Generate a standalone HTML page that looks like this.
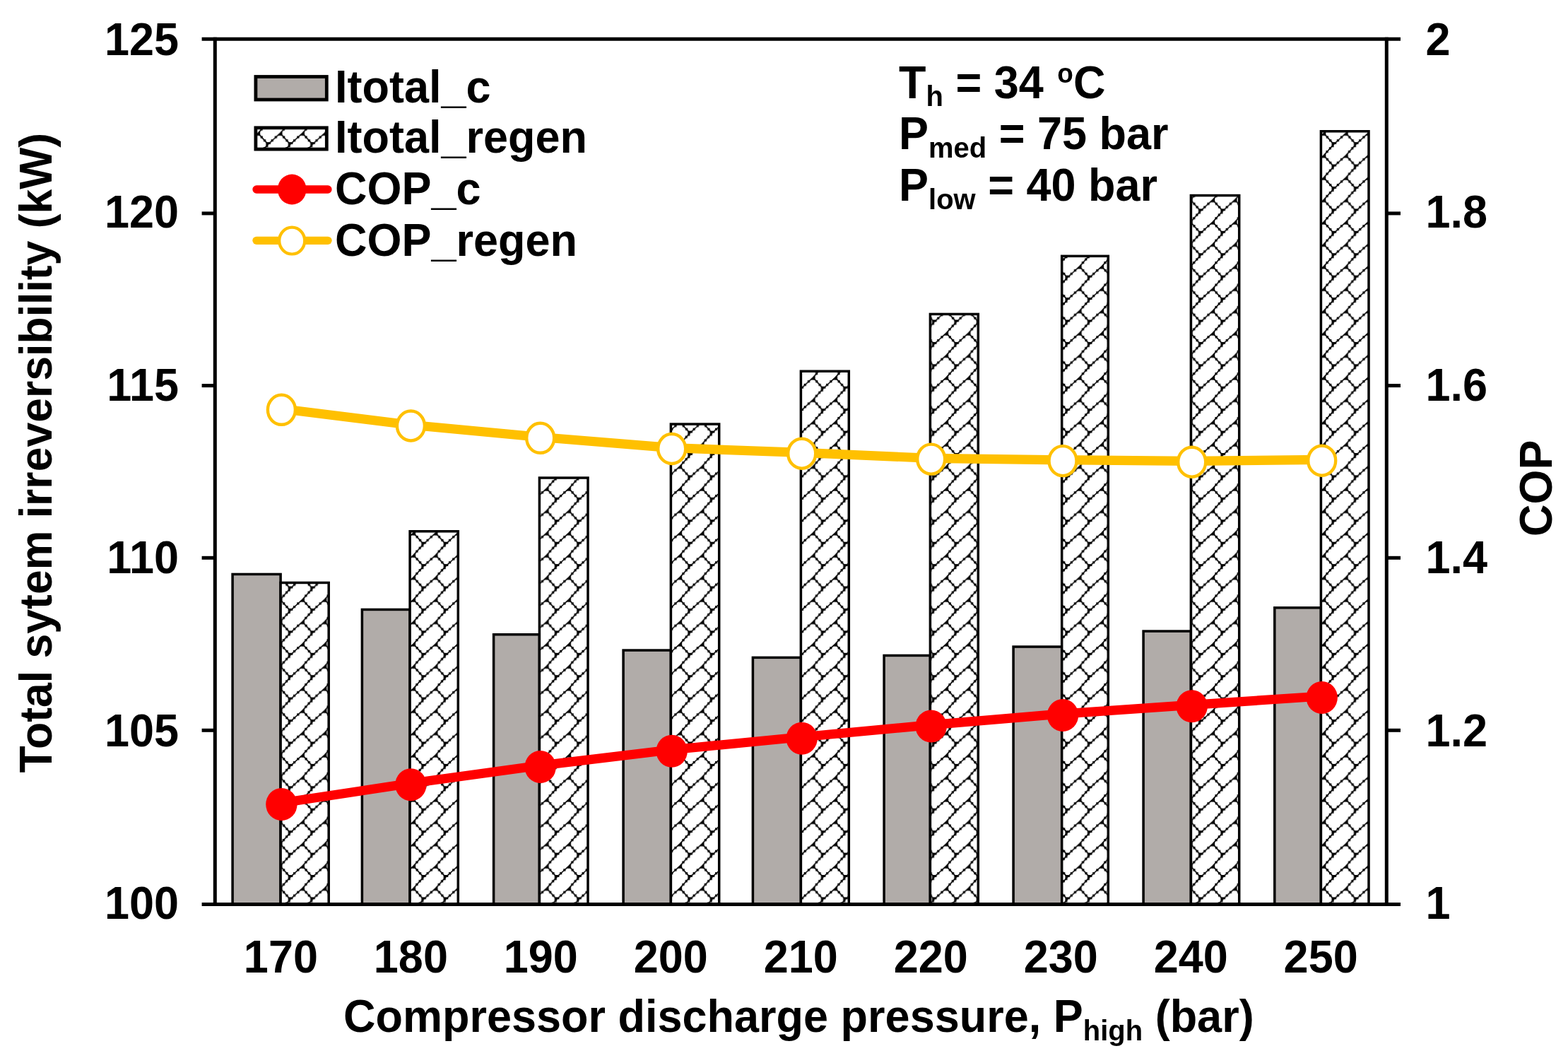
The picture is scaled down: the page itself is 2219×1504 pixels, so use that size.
<!DOCTYPE html><html><head><meta charset="utf-8"><title>Chart</title><style>html,body{margin:0;padding:0;background:#fff;}svg{display:block;}text{font-family:"Liberation Sans",Arial,sans-serif;font-weight:bold;fill:#000;}</style></head><body>
<svg xmlns="http://www.w3.org/2000/svg" xmlns:xlink="http://www.w3.org/1999/xlink" width="2219" height="1504" viewBox="0 0 2219 1504">
<rect x="0" y="0" width="2219" height="1504" fill="#fff"/>
<defs>
<pattern id="pb" patternUnits="userSpaceOnUse" x="0" y="0" width="31.42" height="31.42"><rect width="31.42" height="31.42" fill="#fff"/><g fill="#000"><path d="M-23.42,-26.42L-9.22,-10.72M-23.42,-26.42L-40.64,-10.72M-9.22,-10.72L-23.42,5.00M-23.42,5.00L-9.22,20.70M-23.42,5.00L-40.64,20.70M-9.22,20.70L-23.42,36.42M-23.42,36.42L-9.22,52.12M-23.42,36.42L-40.64,52.12M-9.22,52.12L-23.42,67.84M8.00,-26.42L22.20,-10.72M8.00,-26.42L-9.22,-10.72M22.20,-10.72L8.00,5.00M8.00,5.00L22.20,20.70M8.00,5.00L-9.22,20.70M22.20,20.70L8.00,36.42M8.00,36.42L22.20,52.12M8.00,36.42L-9.22,52.12M22.20,52.12L8.00,67.84M39.42,-26.42L53.62,-10.72M39.42,-26.42L22.20,-10.72M53.62,-10.72L39.42,5.00M39.42,5.00L53.62,20.70M39.42,5.00L22.20,20.70M53.62,20.70L39.42,36.42M39.42,36.42L53.62,52.12M39.42,36.42L22.20,52.12M53.62,52.12L39.42,67.84" stroke="#000" stroke-width="1.6" fill="none"/><rect x="-19.91" y="-22.37" width="3.2" height="3.2"/><rect x="-15.65" y="-17.66" width="3.2" height="3.2"/><rect x="-31.22" y="-22.37" width="3.2" height="3.2"/><rect x="-36.39" y="-17.66" width="3.2" height="3.2"/><rect x="-15.93" y="-6.66" width="3.2" height="3.2"/><rect x="-20.19" y="-1.94" width="3.2" height="3.2"/><rect x="-19.91" y="9.05" width="3.2" height="3.2"/><rect x="-15.65" y="13.76" width="3.2" height="3.2"/><rect x="-31.22" y="9.05" width="3.2" height="3.2"/><rect x="-36.39" y="13.76" width="3.2" height="3.2"/><rect x="-15.93" y="24.76" width="3.2" height="3.2"/><rect x="-20.19" y="29.48" width="3.2" height="3.2"/><rect x="-19.91" y="40.47" width="3.2" height="3.2"/><rect x="-15.65" y="45.18" width="3.2" height="3.2"/><rect x="-31.22" y="40.47" width="3.2" height="3.2"/><rect x="-36.39" y="45.18" width="3.2" height="3.2"/><rect x="-15.93" y="56.18" width="3.2" height="3.2"/><rect x="-20.19" y="60.90" width="3.2" height="3.2"/><rect x="11.51" y="-22.37" width="3.2" height="3.2"/><rect x="15.77" y="-17.66" width="3.2" height="3.2"/><rect x="0.20" y="-22.37" width="3.2" height="3.2"/><rect x="-4.97" y="-17.66" width="3.2" height="3.2"/><rect x="15.49" y="-6.66" width="3.2" height="3.2"/><rect x="11.23" y="-1.94" width="3.2" height="3.2"/><rect x="11.51" y="9.05" width="3.2" height="3.2"/><rect x="15.77" y="13.76" width="3.2" height="3.2"/><rect x="0.20" y="9.05" width="3.2" height="3.2"/><rect x="-4.97" y="13.76" width="3.2" height="3.2"/><rect x="15.49" y="24.76" width="3.2" height="3.2"/><rect x="11.23" y="29.48" width="3.2" height="3.2"/><rect x="11.51" y="40.47" width="3.2" height="3.2"/><rect x="15.77" y="45.18" width="3.2" height="3.2"/><rect x="0.20" y="40.47" width="3.2" height="3.2"/><rect x="-4.97" y="45.18" width="3.2" height="3.2"/><rect x="15.49" y="56.18" width="3.2" height="3.2"/><rect x="11.23" y="60.90" width="3.2" height="3.2"/><rect x="42.93" y="-22.37" width="3.2" height="3.2"/><rect x="47.19" y="-17.66" width="3.2" height="3.2"/><rect x="31.62" y="-22.37" width="3.2" height="3.2"/><rect x="26.45" y="-17.66" width="3.2" height="3.2"/><rect x="46.91" y="-6.66" width="3.2" height="3.2"/><rect x="42.65" y="-1.94" width="3.2" height="3.2"/><rect x="42.93" y="9.05" width="3.2" height="3.2"/><rect x="47.19" y="13.76" width="3.2" height="3.2"/><rect x="31.62" y="9.05" width="3.2" height="3.2"/><rect x="26.45" y="13.76" width="3.2" height="3.2"/><rect x="46.91" y="24.76" width="3.2" height="3.2"/><rect x="42.65" y="29.48" width="3.2" height="3.2"/><rect x="42.93" y="40.47" width="3.2" height="3.2"/><rect x="47.19" y="45.18" width="3.2" height="3.2"/><rect x="31.62" y="40.47" width="3.2" height="3.2"/><rect x="26.45" y="45.18" width="3.2" height="3.2"/><rect x="46.91" y="56.18" width="3.2" height="3.2"/><rect x="42.65" y="60.90" width="3.2" height="3.2"/><path d="M-27.62,-23.02L-20.42,-30.02L-20.42,-22.82Z"/><path d="M-12.22,-13.72H-5.62V-10.72H-9.22V-6.52H-12.22Z"/><path d="M-27.62,8.40L-20.42,1.40L-20.42,8.60Z"/><path d="M-12.22,17.70H-5.62V20.70H-9.22V24.90H-12.22Z"/><path d="M-27.62,39.82L-20.42,32.82L-20.42,40.02Z"/><path d="M-12.22,49.12H-5.62V52.12H-9.22V56.32H-12.22Z"/><path d="M3.80,-23.02L11.00,-30.02L11.00,-22.82Z"/><path d="M19.20,-13.72H25.80V-10.72H22.20V-6.52H19.20Z"/><path d="M3.80,8.40L11.00,1.40L11.00,8.60Z"/><path d="M19.20,17.70H25.80V20.70H22.20V24.90H19.20Z"/><path d="M3.80,39.82L11.00,32.82L11.00,40.02Z"/><path d="M19.20,49.12H25.80V52.12H22.20V56.32H19.20Z"/><path d="M35.22,-23.02L42.42,-30.02L42.42,-22.82Z"/><path d="M50.62,-13.72H57.22V-10.72H53.62V-6.52H50.62Z"/><path d="M35.22,8.40L42.42,1.40L42.42,8.60Z"/><path d="M50.62,17.70H57.22V20.70H53.62V24.90H50.62Z"/><path d="M35.22,39.82L42.42,32.82L42.42,40.02Z"/><path d="M50.62,49.12H57.22V52.12H53.62V56.32H50.62Z"/></g></pattern>
<pattern id="p0" xlink:href="#pb" x="420.00" y="717.60"/>
<pattern id="p1" xlink:href="#pb" x="420.00" y="717.60"/>
<pattern id="p2" xlink:href="#pb" x="420.00" y="717.60"/>
<pattern id="p3" xlink:href="#pb" x="420.00" y="717.60"/>
<pattern id="p4" xlink:href="#pb" x="420.00" y="717.60"/>
<pattern id="p5" xlink:href="#pb" x="420.00" y="717.60"/>
<pattern id="p6" xlink:href="#pb" x="420.00" y="717.60"/>
<pattern id="p7" xlink:href="#pb" x="420.00" y="717.60"/>
<pattern id="p8" xlink:href="#pb" x="420.00" y="717.60"/>
<pattern id="pl" xlink:href="#pb" x="420.00" y="717.60"/>
</defs>
<rect x="329.10" y="812.45" width="68.00" height="467.05" fill="#B1ACA9" stroke="#000" stroke-width="3.5"/>
<rect x="397.10" y="824.45" width="68.10" height="455.05" fill="url(#p0)" stroke="#000" stroke-width="3.5"/>
<rect x="512.40" y="862.45" width="67.70" height="417.05" fill="#B1ACA9" stroke="#000" stroke-width="3.5"/>
<rect x="580.10" y="751.75" width="68.20" height="527.75" fill="url(#p1)" stroke="#000" stroke-width="3.5"/>
<rect x="698.60" y="897.75" width="64.80" height="381.75" fill="#B1ACA9" stroke="#000" stroke-width="3.5"/>
<rect x="763.40" y="676.05" width="68.60" height="603.45" fill="url(#p2)" stroke="#000" stroke-width="3.5"/>
<rect x="882.10" y="920.05" width="67.30" height="359.45" fill="#B1ACA9" stroke="#000" stroke-width="3.5"/>
<rect x="949.40" y="600.05" width="68.30" height="679.45" fill="url(#p3)" stroke="#000" stroke-width="3.5"/>
<rect x="1065.40" y="930.35" width="68.00" height="349.15" fill="#B1ACA9" stroke="#000" stroke-width="3.5"/>
<rect x="1133.40" y="525.25" width="67.90" height="754.25" fill="url(#p4)" stroke="#000" stroke-width="3.5"/>
<rect x="1251.10" y="927.45" width="65.30" height="352.05" fill="#B1ACA9" stroke="#000" stroke-width="3.5"/>
<rect x="1316.40" y="444.45" width="67.90" height="835.05" fill="url(#p5)" stroke="#000" stroke-width="3.5"/>
<rect x="1434.10" y="915.05" width="68.60" height="364.45" fill="#B1ACA9" stroke="#000" stroke-width="3.5"/>
<rect x="1502.70" y="362.35" width="65.60" height="917.15" fill="url(#p6)" stroke="#000" stroke-width="3.5"/>
<rect x="1618.10" y="893.05" width="67.30" height="386.45" fill="#B1ACA9" stroke="#000" stroke-width="3.5"/>
<rect x="1685.40" y="276.55" width="68.30" height="1002.95" fill="url(#p7)" stroke="#000" stroke-width="3.5"/>
<rect x="1803.80" y="859.85" width="65.60" height="419.65" fill="#B1ACA9" stroke="#000" stroke-width="3.5"/>
<rect x="1869.40" y="185.75" width="67.60" height="1093.75" fill="url(#p8)" stroke="#000" stroke-width="3.5"/>
<g stroke="#000" stroke-width="5" fill="none">
<line x1="285.6" y1="55.3" x2="1982" y2="55.3"/>
<line x1="285.6" y1="1279.5" x2="1982" y2="1279.5"/>
<line x1="304.3" y1="52.8" x2="304.3" y2="1282.0"/>
<line x1="1962.3" y1="52.8" x2="1962.3" y2="1282.0"/>
<line x1="285.6" y1="1033.30" x2="304.3" y2="1033.30"/>
<line x1="1962.3" y1="1033.30" x2="1982" y2="1033.30"/>
<line x1="285.6" y1="789.30" x2="304.3" y2="789.30"/>
<line x1="1962.3" y1="789.30" x2="1982" y2="789.30"/>
<line x1="285.6" y1="545.60" x2="304.3" y2="545.60"/>
<line x1="1962.3" y1="545.60" x2="1982" y2="545.60"/>
<line x1="285.6" y1="301.90" x2="304.3" y2="301.90"/>
<line x1="1962.3" y1="301.90" x2="1982" y2="301.90"/>
</g>
<polyline points="398.40,578.50 581.40,601.20 764.70,618.50 950.70,633.70 1134.70,640.40 1317.70,648.30 1504.00,650.80 1686.70,652.40 1870.70,650.40" fill="none" stroke="#FFC000" stroke-width="13.2" stroke-linejoin="round" stroke-linecap="round"/>
<ellipse cx="398.40" cy="579.80" rx="19.5" ry="21" fill="#fff" stroke="#FFC000" stroke-width="4.4"/>
<ellipse cx="581.40" cy="602.50" rx="19.5" ry="21" fill="#fff" stroke="#FFC000" stroke-width="4.4"/>
<ellipse cx="764.70" cy="619.80" rx="19.5" ry="21" fill="#fff" stroke="#FFC000" stroke-width="4.4"/>
<ellipse cx="950.70" cy="635.00" rx="19.5" ry="21" fill="#fff" stroke="#FFC000" stroke-width="4.4"/>
<ellipse cx="1134.70" cy="641.70" rx="19.5" ry="21" fill="#fff" stroke="#FFC000" stroke-width="4.4"/>
<ellipse cx="1317.70" cy="649.60" rx="19.5" ry="21" fill="#fff" stroke="#FFC000" stroke-width="4.4"/>
<ellipse cx="1504.00" cy="652.10" rx="19.5" ry="21" fill="#fff" stroke="#FFC000" stroke-width="4.4"/>
<ellipse cx="1686.70" cy="653.70" rx="19.5" ry="21" fill="#fff" stroke="#FFC000" stroke-width="4.4"/>
<ellipse cx="1870.70" cy="651.70" rx="19.5" ry="21" fill="#fff" stroke="#FFC000" stroke-width="4.4"/>
<polyline points="398.40,1136.10 581.40,1108.20 764.70,1083.10 950.70,1060.80 1134.70,1042.80 1317.70,1025.60 1504.00,1009.90 1686.70,997.30 1870.70,985.00" fill="none" stroke="#FF0000" stroke-width="13.2" stroke-linejoin="round" stroke-linecap="round"/>
<ellipse cx="398.40" cy="1138.10" rx="22.2" ry="23" fill="#FF0000"/>
<ellipse cx="581.40" cy="1110.20" rx="22.2" ry="23" fill="#FF0000"/>
<ellipse cx="764.70" cy="1085.10" rx="22.2" ry="23" fill="#FF0000"/>
<ellipse cx="950.70" cy="1062.80" rx="22.2" ry="23" fill="#FF0000"/>
<ellipse cx="1134.70" cy="1044.80" rx="22.2" ry="23" fill="#FF0000"/>
<ellipse cx="1317.70" cy="1027.60" rx="22.2" ry="23" fill="#FF0000"/>
<ellipse cx="1504.00" cy="1011.90" rx="22.2" ry="23" fill="#FF0000"/>
<ellipse cx="1686.70" cy="999.30" rx="22.2" ry="23" fill="#FF0000"/>
<ellipse cx="1870.70" cy="987.00" rx="22.2" ry="23" fill="#FF0000"/>
<text transform="translate(253.00,1300.40) scale(1.0,1.025)" font-size="63" text-anchor="end">100</text>
<text transform="translate(253.00,1055.84) scale(1.0,1.025)" font-size="63" text-anchor="end">105</text>
<text transform="translate(253.00,811.28) scale(1.0,1.025)" font-size="63" text-anchor="end">110</text>
<text transform="translate(253.00,566.72) scale(1.0,1.025)" font-size="63" text-anchor="end">115</text>
<text transform="translate(253.00,322.16) scale(1.0,1.025)" font-size="63" text-anchor="end">120</text>
<text transform="translate(253.00,77.60) scale(1.0,1.025)" font-size="63" text-anchor="end">125</text>
<text transform="translate(2017.50,1300.40) scale(1.0,1.025)" font-size="63">1</text>
<text transform="translate(2017.50,1055.84) scale(1.0,1.025)" font-size="63">1.2</text>
<text transform="translate(2017.50,811.28) scale(1.0,1.025)" font-size="63">1.4</text>
<text transform="translate(2017.50,566.72) scale(1.0,1.025)" font-size="63">1.6</text>
<text transform="translate(2017.50,322.16) scale(1.0,1.025)" font-size="63">1.8</text>
<text transform="translate(2017.50,77.60) scale(1.0,1.025)" font-size="63">2</text>
<text transform="translate(397.40,1376.20) scale(1.0,1.025)" font-size="63" text-anchor="middle">170</text>
<text transform="translate(581.37,1376.20) scale(1.0,1.025)" font-size="63" text-anchor="middle">180</text>
<text transform="translate(765.34,1376.20) scale(1.0,1.025)" font-size="63" text-anchor="middle">190</text>
<text transform="translate(949.31,1376.20) scale(1.0,1.025)" font-size="63" text-anchor="middle">200</text>
<text transform="translate(1133.28,1376.20) scale(1.0,1.025)" font-size="63" text-anchor="middle">210</text>
<text transform="translate(1317.25,1376.20) scale(1.0,1.025)" font-size="63" text-anchor="middle">220</text>
<text transform="translate(1501.22,1376.20) scale(1.0,1.025)" font-size="63" text-anchor="middle">230</text>
<text transform="translate(1685.19,1376.20) scale(1.0,1.025)" font-size="63" text-anchor="middle">240</text>
<text transform="translate(1869.16,1376.20) scale(1.0,1.025)" font-size="63" text-anchor="middle">250</text>
<text transform="translate(486.00,1460.40) scale(1.0,1.025)" font-size="63">Compressor discharge pressure, P<tspan font-size="40" dy="11.7">high</tspan><tspan dy="-11.7"> (bar)</tspan></text>
<text transform="translate(72.90,1093.50) rotate(-90) scale(0.9927,1.025)" font-size="63">Total sytem irreversibility (kW)</text>
<text transform="translate(2195.80,759.00) rotate(-90) scale(1.0,1.025)" font-size="63">COP</text>
<rect x="361.9" y="108.5" width="100.4" height="32.5" fill="#B1ACA9" stroke="#000" stroke-width="4.8"/>
<rect x="361.9" y="180.8" width="100.4" height="30.3" fill="url(#pl)" stroke="#000" stroke-width="4.8"/>
<line x1="363" y1="268" x2="464" y2="268" stroke="#FF0000" stroke-width="11.3" stroke-linecap="round"/>
<ellipse cx="413.2" cy="268" rx="20.3" ry="21.4" fill="#FF0000"/>
<line x1="363" y1="340.3" x2="464" y2="340.3" stroke="#FFC000" stroke-width="11.3" stroke-linecap="round"/>
<ellipse cx="413.2" cy="340.6" rx="18" ry="18.9" fill="#fff" stroke="#FFC000" stroke-width="4.2"/>
<text transform="translate(474.00,145.20) scale(1.0,1.025)" font-size="63">Itotal_c</text>
<text transform="translate(474.00,216.20) scale(1.0,1.025)" font-size="63">Itotal_regen</text>
<text transform="translate(474.00,289.40) scale(1.0,1.025)" font-size="63">COP_c</text>
<text transform="translate(474.00,361.50) scale(1.0,1.025)" font-size="63">COP_regen</text>
<text transform="translate(1272.00,139.00) scale(1.0,1.025)" font-size="63">T<tspan font-size="40" dy="10.5">h</tspan><tspan dy="-10.5"> = 34 </tspan><tspan font-size="37" dx="2" dy="-21.5">o</tspan><tspan dy="21.5">C</tspan></text>
<text transform="translate(1272.00,211.00) scale(1.0,1.025)" font-size="63">P<tspan font-size="40" dy="11.5">med</tspan><tspan dy="-11.5"> = 75 bar</tspan></text>
<text transform="translate(1272.00,284.00) scale(1.0,1.025)" font-size="63">P<tspan font-size="40" dy="11.5">low</tspan><tspan dy="-11.5"> = 40 bar</tspan></text>
</svg></body></html>
